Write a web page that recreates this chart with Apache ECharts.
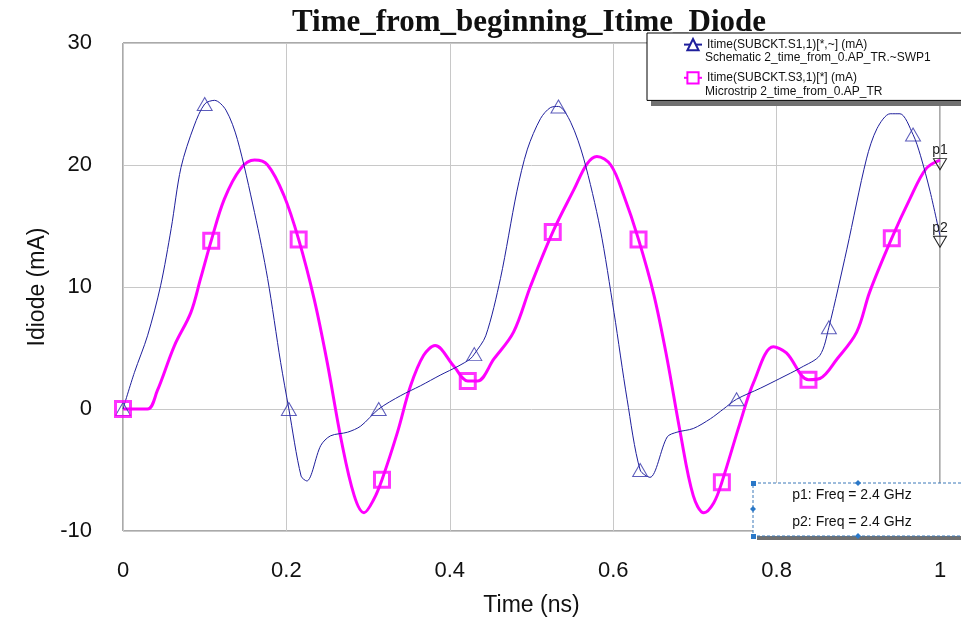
<!DOCTYPE html>
<html>
<head>
<meta charset="utf-8">
<script src="https://cdn.jsdelivr.net/npm/echarts@6/dist/echarts.min.js"></script>
<style>
html,body{margin:0;padding:0;background:#fff;}
#chart{width:961px;height:622px;}
</style>
</head>
<body>
<div id="chart"></div>
<script>
// ---- data ----
const titleText = 'Time_from_beginning_Itime_Diode';
const xAxisName = 'Time (ns)';
const yAxisName = 'Idiode (mA)';
const xTicks = [0, 0.2, 0.4, 0.6, 0.8, 1];
const yTicks = [-10, 0, 10, 20, 30];

const seriesNames = ['Itime(SUBCKT.S1,1)[*,~] (mA)', 'Itime(SUBCKT.S3,1)[*] (mA)'];
const seriesSubNames = ['Schematic 2_time_from_0.AP_TR.~SWP1', 'Microstrip 2_time_from_0.AP_TR'];

// Schematic (blue, triangles)
const blueT = [0, 0.014, 0.030, 0.046, 0.059, 0.071, 0.087, 0.100, 0.112, 0.126, 0.140, 0.161, 0.177, 0.193, 0.203, 0.218, 0.225, 0.242, 0.254, 0.275, 0.291, 0.313, 0.340, 0.364, 0.389, 0.410, 0.425, 0.430, 0.444, 0.462, 0.482, 0.495, 0.511, 0.523, 0.533, 0.548, 0.564, 0.584, 0.601, 0.617, 0.633, 0.645, 0.666, 0.678, 0.698, 0.719, 0.735, 0.751, 0.780, 0.804, 0.830, 0.853, 0.864, 0.886, 0.910, 0.923, 0.939, 0.951, 0.967, 0.976, 0.988, 1.0];
const blueI = [0, 3.0, 6.0, 10.1, 14.8, 19.8, 23.2, 25.0, 25.3, 24.5, 22.1, 16.1, 10.7, 3.8, 0, -5.5, -5.9, -3.0, -2.2, -1.9, -1.4, 0, 1.1, 1.9, 2.8, 3.5, 4.1, 4.5, 6.0, 10.7, 17.8, 21.3, 23.8, 24.7, 24.8, 23.5, 20.5, 14.8, 7.9, 0.8, -5.0, -5.6, -2.3, -1.9, -1.6, -0.8, 0, 0.8, 1.7, 2.5, 3.4, 4.4, 6.7, 13.1, 20.5, 23.0, 24.2, 24.2, 22.5, 20.8, 17.8, 14.2];
const blueMarkT = [0, 0.100, 0.203, 0.313, 0.430, 0.533, 0.633, 0.751, 0.864, 0.967];
const blueMarkI = [0, 25.0, 0, 0, 4.5, 24.8, -5.0, 0.8, 6.7, 22.5];

// Microstrip (magenta, squares)
const magT = [0, 0.030, 0.042, 0.063, 0.083, 0.095, 0.108, 0.124, 0.144, 0.161, 0.177, 0.197, 0.215, 0.234, 0.250, 0.267, 0.283, 0.295, 0.307, 0.317, 0.336, 0.352, 0.368, 0.382, 0.405, 0.422, 0.434, 0.454, 0.478, 0.499, 0.526, 0.552, 0.568, 0.580, 0.597, 0.613, 0.631, 0.650, 0.666, 0.682, 0.698, 0.711, 0.723, 0.733, 0.755, 0.772, 0.796, 0.812, 0.839, 0.853, 0.874, 0.898, 0.914, 0.941, 0.963, 0.983, 1.0];
const magI = [0, 0, 1.5, 5.2, 7.9, 10.7, 13.8, 17.2, 19.7, 20.4, 20.0, 17.5, 13.9, 9.0, 3.8, -2.5, -7.1, -8.5, -7.4, -5.8, -1.9, 1.9, 4.4, 5.2, 3.5, 2.3, 2.3, 4.1, 6.3, 10.1, 14.5, 18.0, 20.1, 20.7, 20.0, 17.5, 13.9, 9.3, 4.1, -1.9, -7.1, -8.5, -7.7, -6.0, -1.2, 2.2, 5.1, 4.6, 2.4, 2.5, 4.1, 6.3, 9.6, 14.0, 17.2, 19.7, 20.4];
const magMarkT = [0, 0.108, 0.215, 0.317, 0.422, 0.526, 0.631, 0.733, 0.839, 0.941];
const magMarkI = [0, 13.8, 13.9, -5.8, 2.3, 14.5, 13.9, -6.0, 2.4, 14.0];

const markerNames = ['p1', 'p2'];
const markerInfo = ['p1: Freq = 2.4 GHz', 'p2: Freq = 2.4 GHz'];

// ---- chart ----
const zip = (a, b) => a.map((v, i) => [v, b[i]]);
const BLUE = '#1f1f9c';
const MAG = '#ff00ff';
const FONT = "'Liberation Sans', Arial, sans-serif";

const chart = echarts.init(document.getElementById('chart'), null, {renderer: 'canvas'});

const downTri = 'path://M0,0 L10,0 L5,9 Z';

const option = {
  animation: false,
  backgroundColor: '#fff',
  title: {
    text: titleText,
    left: 529, top: 7, textAlign: 'center', padding: 0,
    textStyle: {fontFamily: "'Liberation Serif', 'Times New Roman', serif", fontWeight: 'bold', fontSize: 31, color: '#111'}
  },
  grid: {left: 123, right: 21, top: 43, bottom: 90, show: true, borderColor: '#555', borderWidth: 1, backgroundColor: 'transparent'},
  xAxis: {
    type: 'value', min: xTicks[0], max: xTicks[xTicks.length - 1], interval: 0.2,
    name: xAxisName, nameLocation: 'middle', nameGap: 63,
    nameTextStyle: {fontFamily: FONT, fontSize: 23, color: '#111'},
    axisLine: {show: false}, axisTick: {show: false},
    axisLabel: {margin: 29, fontFamily: FONT, fontSize: 22, color: '#111', formatter: v => String(+v.toFixed(1))},
    splitLine: {show: true, lineStyle: {color: '#c8c8c8', width: 1}}
  },
  yAxis: {
    type: 'value', min: yTicks[0], max: yTicks[yTicks.length - 1], interval: 10,
    name: yAxisName, nameLocation: 'middle', nameGap: 73,
    nameTextStyle: {fontFamily: FONT, fontSize: 23, color: '#111'},
    axisLine: {show: false}, axisTick: {show: false},
    axisLabel: {margin: 31, fontFamily: FONT, fontSize: 22, color: '#111'},
    splitLine: {show: true, lineStyle: {color: '#c8c8c8', width: 1}}
  },
  legend: {
    orient: 'vertical', left: 647, top: 33, z: 10,
    padding: [5, 140, 16, 36], itemGap: 20, itemWidth: 18, itemHeight: 14,
    selectedMode: false,
    backgroundColor: '#fff', borderColor: '#000', borderWidth: 1,
    data: seriesNames,
    textStyle: {fontFamily: FONT, fontSize: 12, color: '#111'}
  },
  series: [
    {
      name: seriesNames[0], type: 'line', data: zip(blueT, blueI),
      smooth: 0.3, showSymbol: false, symbol: 'emptyTriangle',
      lineStyle: {color: BLUE, width: 1}, itemStyle: {color: BLUE}, z: 3,
      markPoint: {
        symbol: downTri, symbolSize: [13, 11], symbolOffset: [0, 6], silent: true,
        itemStyle: {color: 'transparent', borderColor: '#222', borderWidth: 1},
        label: {show: true, position: 'top', distance: 1, formatter: markerNames[1], fontFamily: FONT, fontSize: 14, color: '#222'},
        data: [{coord: [blueT[blueT.length - 1], blueI[blueI.length - 1]]}]
      }
    },
    {
      name: seriesNames[1], type: 'line', data: zip(magT, magI),
      smooth: 0.35, showSymbol: false, symbol: 'emptyRect',
      lineStyle: {color: MAG, width: 3}, itemStyle: {color: MAG}, z: 2,
      markPoint: {
        symbol: downTri, symbolSize: [13, 11], symbolOffset: [0, 4], silent: true,
        itemStyle: {color: 'transparent', borderColor: '#222', borderWidth: 1},
        label: {show: true, position: 'top', distance: 1, formatter: markerNames[0], fontFamily: FONT, fontSize: 14, color: '#222'},
        data: [{coord: [magT[magT.length - 1], magI[magI.length - 1]]}]
      }
    },
    {
      name: 'blueMarks', type: 'scatter', data: zip(blueMarkT, blueMarkI),
      symbol: 'triangle', symbolSize: [15, 13], silent: true, z: 4,
      itemStyle: {color: 'transparent', borderColor: '#3333aa', borderWidth: 1}
    },
    {
      name: 'magMarks', type: 'scatter', data: zip(magMarkT, magMarkI),
      symbol: 'rect', symbolSize: 15, silent: true, z: 4,
      itemStyle: {color: 'transparent', borderColor: MAG, borderWidth: 3}
    }
  ],
  graphic: [
    // legend drop shadow
    {type: 'rect', shape: {x: 651, y: 40, width: 330, height: 66}, z: 9, style: {fill: '#707070'}},
    {type: 'text', left: 705, top: 52, z: 100, style: {text: seriesSubNames[0], font: "12px 'Liberation Sans', Arial, sans-serif", fill: '#111'}},
    {type: 'text', left: 705, top: 86, z: 100, style: {text: seriesSubNames[1], font: "12px 'Liberation Sans', Arial, sans-serif", fill: '#111'}},
    // marker info box
    {type: 'rect', shape: {x: 757, y: 487, width: 212, height: 53}, z: 99, style: {fill: '#707070'}},
    {type: 'rect', shape: {x: 753, y: 483, width: 212, height: 53}, z: 100,
      style: {fill: '#fff', stroke: '#3b78b8', lineWidth: 1, lineDash: [3, 2]}},
    {type: 'rect', shape: {x: 751, y: 481, width: 5, height: 5}, z: 101, style: {fill: '#2a78c8'}},
    {type: 'rect', shape: {x: 751, y: 534, width: 5, height: 5}, z: 101, style: {fill: '#2a78c8'}},
    {type: 'polygon', shape: {points: [[858, 480], [861, 483], [858, 486], [855, 483]]}, z: 101, style: {fill: '#2a78c8'}},
    {type: 'polygon', shape: {points: [[858, 533], [861, 536], [858, 539], [855, 536]]}, z: 101, style: {fill: '#2a78c8'}},
    {type: 'polygon', shape: {points: [[753, 506], [756, 509], [753, 512], [750, 509]]}, z: 101, style: {fill: '#2a78c8'}},
    {type: 'text', x: 852, y: 495, z: 102, style: {text: markerInfo[0], font: "14px 'Liberation Sans', Arial, sans-serif", fill: '#111', textAlign: 'center', textVerticalAlign: 'middle'}},
    {type: 'text', x: 852, y: 522, z: 102, style: {text: markerInfo[1], font: "14px 'Liberation Sans', Arial, sans-serif", fill: '#111', textAlign: 'center', textVerticalAlign: 'middle'}}
  ]
};
chart.setOption(option);
</script>
</body>
</html>
